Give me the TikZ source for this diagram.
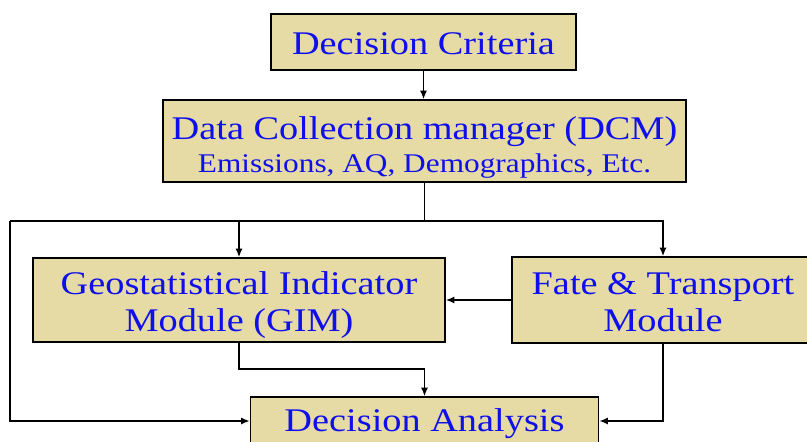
\documentclass[tikz,border=0pt]{standalone}
\usepackage{fontspec}
\setmainfont{Liberation Serif}[FakeStretch=1.16]
\usetikzlibrary{arrows.meta}

\definecolor{boxtan}{RGB}{230,219,165}
\definecolor{boxblue}{RGB}{15,15,235}

\tikzset{
  modbox/.style={draw=black, line width=1.2pt, fill=boxtan, text=boxblue,
    align=center, inner sep=0pt, font=\fontsize{23.5}{26.3}\selectfont},
  flow/.style={line width=1pt, -{Latex[length=6pt,width=5pt]}},
  bus/.style={line width=1pt},
  heavy/.style={line width=2pt},
}

\begin{document}
\begin{tikzpicture}[x=0.025cm, y=-0.025cm]
  \useasboundingbox (0,0) rectangle (807,441);
  % boxes
  \node[modbox, minimum width=7.625cm, minimum height=1.4cm] (crit) at (423.5,42) {\rule{0pt}{18pt}Decision Criteria};
  \node[modbox, minimum width=13.075cm, minimum height=2.05cm] (dcm) at (424.5,141)
    {\rule{0pt}{25pt}Data Collection manager (DCM)\\[-3pt]{\fontsize{19.2}{22}\selectfont Emissions, AQ, Demographics, Etc.}};
  \node[modbox, minimum width=10.3cm, minimum height=2.1cm] (gim) at (239,300) {\rule{0pt}{23pt}Geostatistical Indicator\\Module (GIM)};
  \node[modbox, minimum width=7.55cm, minimum height=2.15cm] (ft) at (663,300) {\rule{0pt}{19pt}Fate \& Transport\\Module};
  \node[modbox, minimum width=8.7cm, minimum height=1.2cm] (da) at (424.5,421) {\rule{0pt}{20pt}Decision Analysis};
  % connectors
  \coordinate (lft) at (10,221);
  \coordinate (split) at (dcm.south |- lft);
  \draw[flow] (crit.south) -- (crit.south |- dcm.north);
  \draw[bus] (dcm.south) -- (split);
  \draw[heavy] (split) -- (lft);
  \draw[flow] (split) -| (gim.north);
  \draw[flow] (split) -| (ft.north);
  \draw[flow] (lft) |- (da.west);
  \draw[flow] (ft.west) -- (gim.east);
  \draw[flow] (gim.south) -- ++(0,26) -| (da.north);
  \draw[flow] (ft.south) |- (da.east);
\end{tikzpicture}
\end{document}
